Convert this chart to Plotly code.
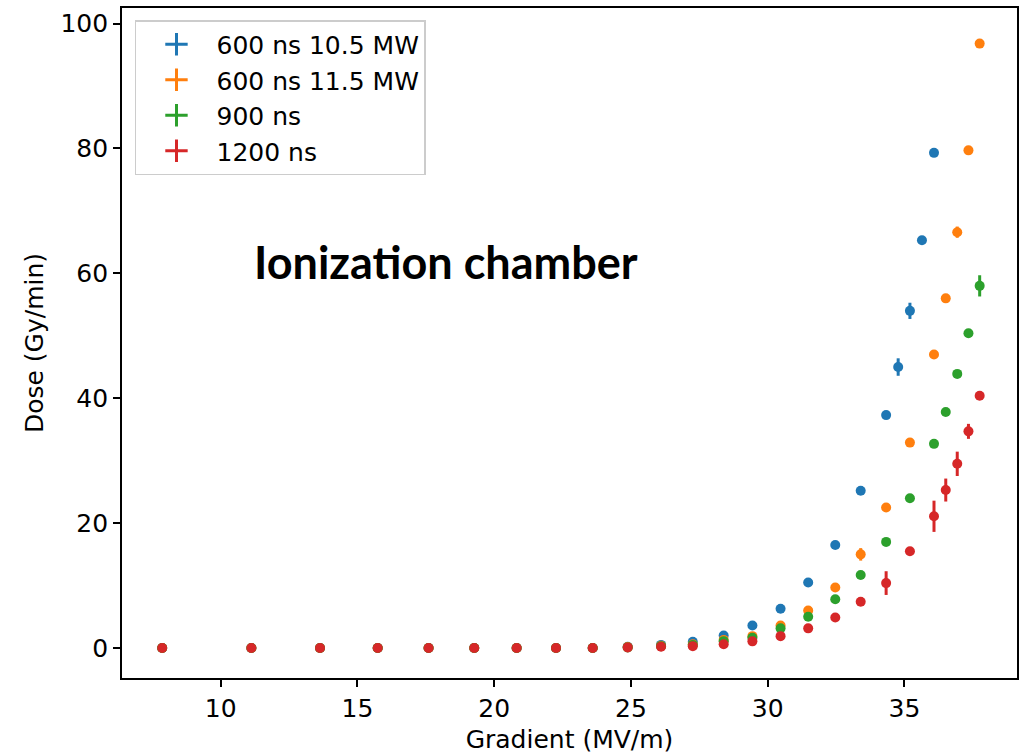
import plotly.graph_objects as go

# ---- data ----
x_common = [7.86, 11.12, 13.63, 15.74, 17.60, 19.27, 20.82, 22.26, 23.60,
            24.88, 26.10, 27.26, 28.39, 29.44, 30.47, 31.48, 32.47, 33.40, 34.33]

blue_x = x_common + [34.77, 35.20, 35.64, 36.08]
blue_y = [0, 0, 0, 0, 0, 0, 0, 0, 0,
          0.2, 0.5, 1.0, 2.0, 3.6, 6.3, 10.5, 16.5, 25.2, 37.3,
          45.0, 54.0, 65.3, 79.3]
blue_err = [0.05] * 9 + [0.1, 0.1, 0.1, 0.2, 0.2, 0.3, 0.3, 0.4, 0.5, 0.6, 1.4, 1.3, 0.6, 0.5]

x_long = x_common + [35.20, 36.08, 36.51, 36.93, 37.34, 37.75]

orange_y = [0, 0, 0, 0, 0, 0, 0, 0, 0,
            0.15, 0.35, 0.6, 1.3, 1.9, 3.6, 6.0, 9.7, 15.0, 22.5,
            32.9, 47.0, 56.0, 66.6, 79.7, 96.8]
orange_err = [0.05] * 9 + [0.1, 0.1, 0.1, 0.2, 0.2, 0.3, 0.3, 0.4, 1.0, 0.5, 0.5, 0.5, 0.6, 0.9, 0.6, 0.6]

green_y = [0, 0, 0, 0, 0, 0, 0, 0, 0,
           0.1, 0.3, 0.5, 1.1, 1.65, 3.15, 5.0, 7.8, 11.7, 17.0,
           24.0, 32.7, 37.8, 43.9, 50.4, 58.0]
green_err = [0.05] * 9 + [0.1, 0.1, 0.1, 0.2, 0.2, 0.3, 0.3, 0.4, 0.4, 0.5, 0.5, 0.5, 0.6, 0.6, 0.6, 1.7]

red_y = [0, 0, 0, 0, 0, 0, 0, 0, 0,
         0.1, 0.2, 0.3, 0.6, 1.07, 1.9, 3.15, 4.9, 7.4, 10.4,
         15.5, 21.1, 25.3, 29.5, 34.7, 40.4]
red_err = [0.05] * 9 + [0.1, 0.1, 0.1, 0.2, 0.2, 0.3, 0.3, 0.4, 0.5, 1.9, 0.5, 2.5, 1.84, 1.95, 1.2, 0.6]

names = ["600 ns 10.5 MW", "600 ns 11.5 MW", "900 ns", "1200 ns"]
colors = ["#1f77b4", "#ff7f0e", "#2ca02c", "#d62728"]
x_ticks = [10, 15, 20, 25, 30, 35]
y_ticks = [0, 20, 40, 60, 80, 100]

series = [
    (blue_x, blue_y, blue_err),
    (x_long, orange_y, orange_err),
    (x_long, green_y, green_err),
    (x_long, red_y, red_err),
]

fig = go.Figure()
for (xs, ys, es), c in zip(series, colors):
    fig.add_trace(go.Scatter(
        x=xs, y=ys, mode="markers",
        marker=dict(color=c, size=10),
        error_y=dict(type="data", array=es, color=c, thickness=3, width=0, visible=True),
        showlegend=False, hoverinfo="skip",
    ))

# legend entries (errorbar-style cross)
for i, (n, c) in enumerate(zip(names, colors)):
    fig.add_trace(go.Scatter(
        x=[None], y=[None], mode="markers", name=n,
        marker=dict(symbol="cross-thin", size=24, color=c, line=dict(color=c, width=3)),
        legendgroup=str(i),
    ))

font = "DejaVu Sans"
fs = 25
fig.add_annotation(
    text="<b>Ionization chamber</b>", x=0.145, y=0.621, xref="paper", yref="paper",
    xanchor="left", yanchor="middle", showarrow=False,
    font=dict(family="Lato", size=45, color="black"),
)

axis_common = dict(
    showline=True, linecolor="black", linewidth=1.75, mirror=True,
    ticks="outside", ticklen=7, tickwidth=1.5, tickcolor="black",
    showgrid=False, zeroline=False, automargin=False,
    tickfont=dict(family=font, size=fs, color="black"),
)

fig.update_layout(
    width=1019, height=756,
    margin=dict(l=122, r=2, t=8, b=78),
    plot_bgcolor="white", paper_bgcolor="white",
    xaxis=dict(range=[6.39, 39.115], tickvals=x_ticks,
               title=dict(text="Gradient (MV/m)", font=dict(family=font, size=fs, color="black"), standoff=9),
               **axis_common),
    yaxis=dict(range=[-4.8, 102.5], tickvals=y_ticks,
               title=dict(text="Dose (Gy/min)", font=dict(family=font, size=fs, color="black"), standoff=10),
               **axis_common),
    legend=dict(x=0.0145, y=0.982, xanchor="left", yanchor="top",
                bgcolor="white", bordercolor="#cccccc", borderwidth=1.5,
                font=dict(family=font, size=fs, color="black"),
                tracegroupgap=0, itemwidth=70),
)

fig.write_html("out.html", config={"displayModeBar": False},
               post_script="document.body.style.margin='0';document.body.style.overflow='hidden';")
